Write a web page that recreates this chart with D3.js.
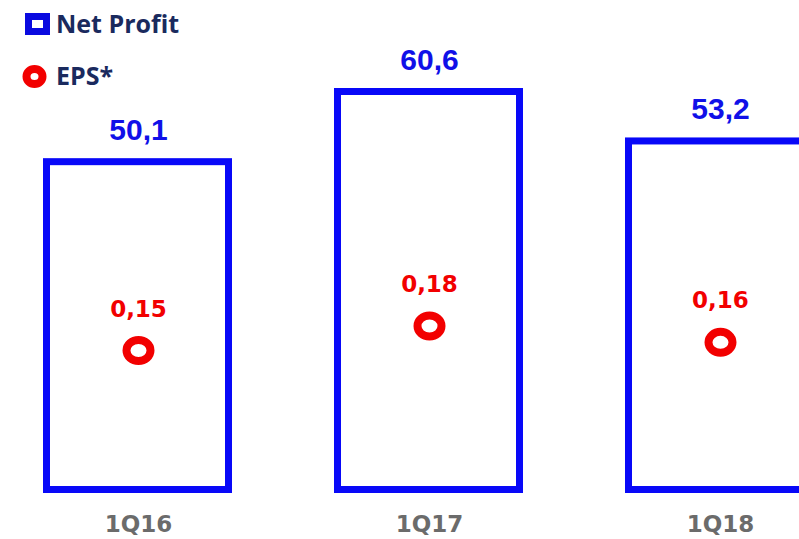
<!DOCTYPE html>
<html><head><meta charset="utf-8">
<script src="https://cdn.jsdelivr.net/npm/d3@7"></script>
<style>body{margin:0;background:#fff}svg{display:block}</style>
</head><body>
<svg id="c" width="799" height="539"></svg>
<script>
const categories = ["1Q16", "1Q17", "1Q18"];
const netProfit = [50.1, 60.6, 53.2];
const eps = [0.15, 0.18, 0.16];
const netProfitLabels = ["50,1", "60,6", "53,2"];
const epsLabels = ["0,15", "0,18", "0,16"];
const legendNames = ["Net Profit", "EPS*"];

const svg = d3.select("#c");
const blue = "#0808f8", red = "#f20000";
const sw = 7;

const x = d3.scaleBand().domain(categories).range([43, 814]).paddingInner(0.3505).paddingOuter(0);
const y = d3.scaleLinear().domain([0, 60.6]).range([493, 88]);
const yE = d3.scaleLinear().domain([0, 0.18]).range([473, 326]);
const cx = d => x(d) + x.bandwidth() / 2 + 1;

const g = svg.append("g");
g.selectAll("rect.bar").data(categories).join("rect")
  .attr("class", "bar")
  .attr("x", d => x(d) + sw / 2)
  .attr("width", x.bandwidth() - sw)
  .attr("y", (d, i) => y(netProfit[i]) + sw / 2)
  .attr("height", (d, i) => y(0) - y(netProfit[i]) - sw)
  .attr("fill", "none").attr("stroke", blue).attr("stroke-width", sw);

g.selectAll("text.np").data(categories).join("text")
  .attr("x", cx)
  .attr("y", (d, i) => y(netProfit[i]) - 18)
  .attr("text-anchor", "middle")
  .attr("font-family", "Liberation Sans, Arial, sans-serif")
  .attr("font-weight", "bold").attr("font-size", 30).attr("fill", "#1010e8")
  .text((d, i) => netProfitLabels[i]);

g.selectAll("ellipse.eps").data(categories).join("ellipse")
  .attr("cx", cx)
  .attr("cy", (d, i) => yE(eps[i]))
  .attr("rx", 12).attr("ry", 10.5).attr("fill", "none").attr("stroke", red).attr("stroke-width", 8);

g.selectAll("text.eps").data(categories).join("text")
  .attr("x", cx)
  .attr("y", (d, i) => yE(eps[i]) - 34)
  .attr("text-anchor", "middle")
  .attr("font-family", "DejaVu Sans, Verdana, sans-serif")
  .attr("font-weight", "bold").attr("font-size", 23).attr("fill", red)
  .text((d, i) => epsLabels[i]);

const xAxis = d3.axisBottom(x).tickSize(0).tickPadding(0);
const ax = svg.append("g").attr("transform", "translate(1,515)").call(xAxis);
ax.select(".domain").remove();
ax.selectAll("text").attr("dy", "0.75em").attr("font-family", "DejaVu Sans, Verdana, sans-serif")
  .attr("font-weight", "bold").attr("font-size", 23).attr("fill", "#6b6b6b");

// legend
const lg = svg.append("g");
lg.append("rect").attr("x", 28.5).attr("y", 16.5).attr("width", 18).attr("height", 15)
  .attr("fill", "#fff").attr("stroke", "#0a0ae0").attr("stroke-width", 7);
lg.append("ellipse").attr("cx", 34.5).attr("cy", 76.5).attr("rx", 8).attr("ry", 7.5)
  .attr("fill", "#fff").attr("stroke", red).attr("stroke-width", 8);
lg.selectAll("text").data(legendNames).join("text")
  .attr("x", 56).attr("y", (d, i) => 33 + i * 52)
  .attr("font-family", "Open Sans, sans-serif").attr("font-weight", "bold")
  .attr("font-size", 25).attr("fill", "#1a2a5e")
  .text(d => d);
</script>
</body></html>
